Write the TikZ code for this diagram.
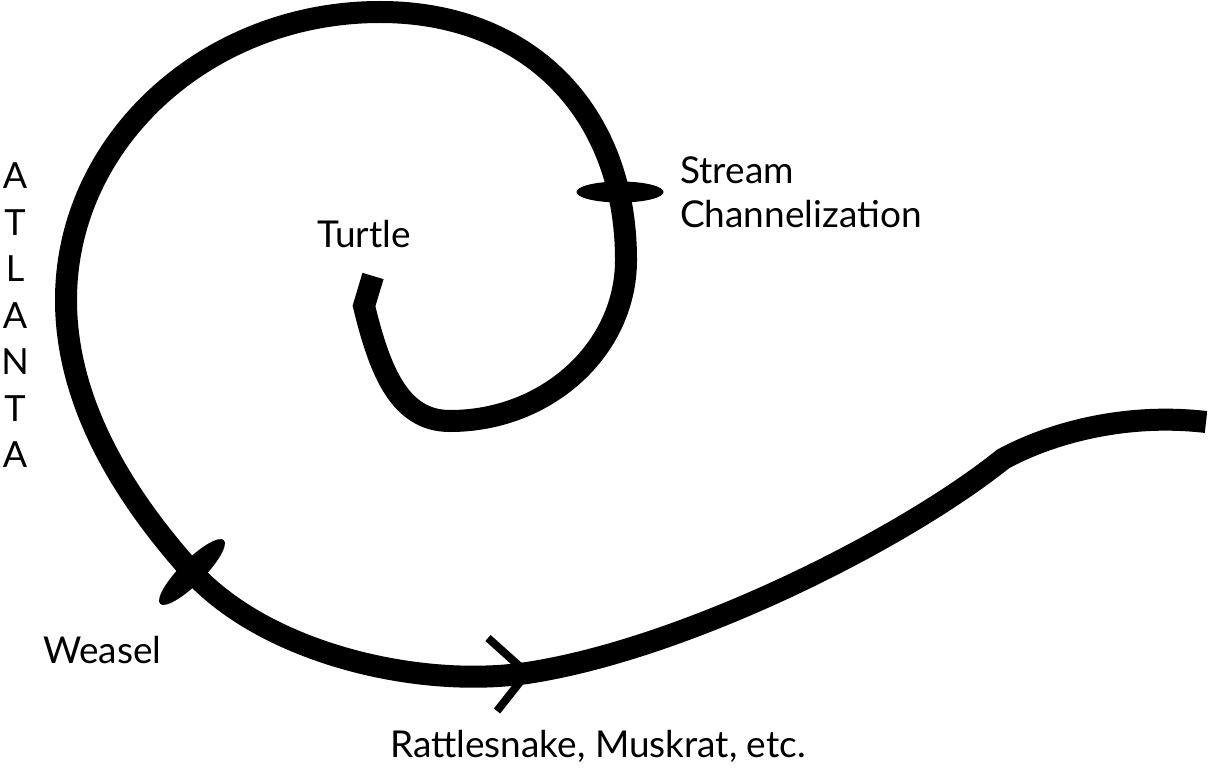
\documentclass[tikz,border=0pt]{standalone}
\usepackage{fontspec}
\setmainfont{Lato}
\usetikzlibrary{shapes.geometric}
\begin{document}
\begin{tikzpicture}[x=1pt,y=-1pt,
  river/.style={line width=22pt, line join=miter, line cap=butt},
  barb/.style={line width=8pt, line join=miter},
  crossing/.style={ellipse, fill=black, draw=none, inner sep=0pt},
  lbl/.style={font=\fontsize{37}{44}\selectfont, inner sep=0pt}]
\useasboundingbox (0,0) rectangle (1209,770);
% key points of the river
\coordinate (tailend) at (373,276);
\coordinate (tailkink) at (364,306);
\coordinate (innerbottom) at (450,421);
\coordinate (innerright) at (626,260);
\coordinate (top) at (380,12);
\coordinate (leftmost) at (66,300);
\coordinate (weaselpt) at (192,572);
\coordinate (apex) at (527,673);
\coordinate (kink) at (1003,459);
\coordinate (mouth) at (1206,422);
% the river
\draw[river] (tailend) -- (tailkink)
  .. controls (380,372) and (400,421) .. (innerbottom)
  .. controls (547,421) and (626,349) .. (innerright)
  .. controls (626,111) and (528,12) .. (top)
  .. controls (207,12) and (66,141) .. (leftmost)
  .. controls (66,410) and (132,505) .. (weaselpt)
  .. controls (266,653) and (418,689) .. (apex)
  .. controls (685,649) and (902,540) .. (kink)
  .. controls (1045,436) and (1120,412) .. (mouth);
% barriers
\node[crossing, minimum width=87pt, minimum height=21pt] (streammark) at (620,192) {};
\node[crossing, minimum width=90pt, minimum height=24pt, rotate=45] (weaselmark) at (weaselpt) {};
% flow arrow
\coordinate (barbtop) at (488,638);
\coordinate (barbbot) at (497,711);
\draw[barb] (barbtop) -- (apex) -- (barbbot);
% labels
\node[lbl, anchor=north west, align=left] (stream) at (680,156) {Stream\\Channelization};
\node[lbl, anchor=base west] (turtle) at (317,247) {Turtle};
\node[lbl, anchor=base west] (weasel) at (43,663) {Weasel};
\node[lbl, anchor=base west] (rattle) at (390,757) {Rattlesnake, Muskrat, etc.};
\node[lbl, anchor=north, align=center, font=\fontsize{36}{46.5}\selectfont] (atlanta) at (15,163) {A\\T\\L\\A\\N\\T\\A};
\end{tikzpicture}
\end{document}
